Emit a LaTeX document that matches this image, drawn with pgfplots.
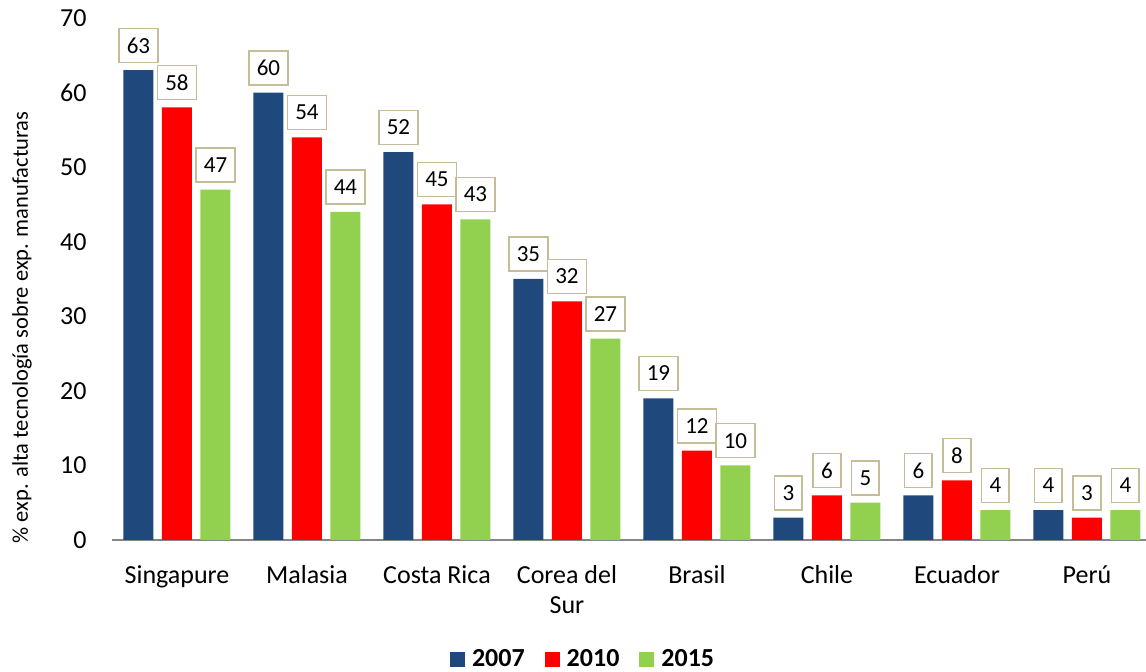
\documentclass[border=0pt]{standalone}
\usepackage{pgfplots}
\pgfplotsset{compat=1.18}
\usepackage{fontspec}
\setmainfont{Carlito}
\definecolor{cblue}{HTML}{1F497D}
\definecolor{cred}{HTML}{FF0000}
\definecolor{cgreen}{HTML}{92D050}
\definecolor{boxc}{HTML}{C4BD97}
\definecolor{axc}{HTML}{868686}
\begin{document}
\begin{tikzpicture}[x=1pt,y=1pt]
\useasboundingbox (0,0) rectangle (1146,672);
\begin{axis}[
  at={(112pt,132pt)}, anchor=south west,
  scale only axis, width=1040pt, height=522pt,
  ybar=8.5pt, bar width=30pt,
  xmin=-0.5, xmax=7.5, ymin=0, ymax=70,
  xtick=data,
  xticklabels={Singapure,Malasia,Costa Rica,{Corea del\\Sur},Brasil,Chile,Ecuador,Perú},
  ytick={0,10,...,70},
  axis x line*=bottom, axis y line*=left,
  y axis line style={draw=none},
  x axis line style={draw=axc, line width=1.5pt, -},
  major tick length=0pt,
  /pgf/number format/assume math mode=true,
  tick label style={font=\fontsize{26}{30}\selectfont},
  yticklabel style={xshift=-22pt},
  xticklabel style={align=center, yshift=-22pt},
  ylabel={\% exp. alta tecnología sobre exp. manufacturas},
  ylabel style={font=\fontsize{22.5}{26}\selectfont, at={(axis description cs:-0.0865,0.407)}, anchor=center},
  clip=false,
  nodes near coords,
  every node near coord/.append style={font=\fontsize{23}{23}\selectfont, text=black, draw=boxc, line width=1.6pt, fill=white, inner xsep=8pt, inner ysep=0pt, minimum height=34pt, anchor=south, yshift=7pt},
  legend style={at={(0.453,-0.228)}, anchor=center, draw=none, inner sep=0pt, legend columns=3, font=\fontsize{26}{30}\selectfont\bfseries, /tikz/every even column/.append style={column sep=18pt}, /tikz/every odd column/.append style={column sep=5pt}},
  legend image code/.code={\fill[#1] (0pt,-7.5pt) rectangle (15pt,7.5pt);},
]
\addplot[fill=cblue, draw=none] coordinates {(0,63) (1,60) (2,52) (3,35) (4,19) (5,3) (6,6) (7,4)};
\addplot[fill=cred, draw=none] coordinates {(0,58) (1,54) (2,45) (3,32) (4,12) (5,6) (6,8) (7,3)};
\addplot[fill=cgreen, draw=none] coordinates {(0,47) (1,44) (2,43) (3,27) (4,10) (5,5) (6,4) (7,4)};
\legend{2007,2010,2015}
\end{axis}
\end{tikzpicture}
\end{document}
